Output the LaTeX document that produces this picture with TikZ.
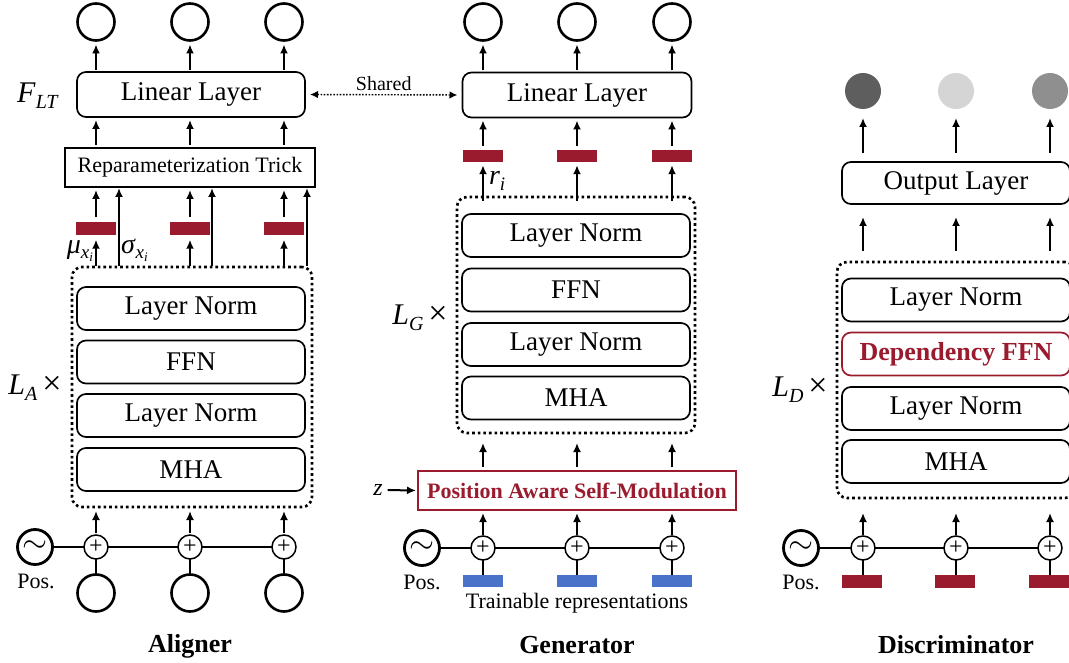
\documentclass[tikz,border=0pt]{standalone}
\usepackage{fontspec}
\setmainfont{Liberation Serif}
\usetikzlibrary{arrows.meta}
\definecolor{dred}{HTML}{9B1B2E}
\definecolor{dblue}{HTML}{4A72C8}
\definecolor{cdark}{HTML}{5E5E5E}
\definecolor{clight}{HTML}{D5D5D5}
\definecolor{cmid}{HTML}{8F8F8F}
\newcommand{\fs}[1]{\fontsize{#1}{#1}\selectfont}
\newcommand{\tld}{\resizebox{25pt}{!}{$\sim$}}
\newcommand{\subsc}[2]{\textit{#1}\raisebox{-0.45ex}{\fs{20}\textit{#2}}}
\begin{document}
\begin{tikzpicture}[x=1pt,y=-1pt,
  every node/.style={inner sep=0pt, outer sep=0pt},
  layerbox/.style={draw, rounded corners=9pt, line width=1.7pt, minimum width=228pt, minimum height=43pt, font=\fs{27}},
  redlayer/.style={layerbox, draw=dred, text=dred, font=\fs{26}\bfseries},
  sqbox/.style={draw, line width=1.3pt, minimum height=39pt, font=\fs{22}},
  loopbox/.style={draw, rounded corners=10pt, line width=2.6pt, dash pattern=on 2.6pt off 3pt},
  io/.style={circle, draw, line width=2.6pt, minimum size=37pt},
  outdot/.style={circle, minimum size=36pt},
  plusc/.style={circle, draw, line width=1.5pt, minimum size=24pt, font=\fs{24}},
  posc/.style={circle, draw, line width=2.8pt, minimum size=35pt},
  bar/.style={minimum width=40pt, minimum height=12.5pt},
  arr/.style={-{Latex[length=9pt,width=8pt]}, line width=2pt},
  ln/.style={line width=1.8pt},
  lbl/.style={font=\fs{22}},
  mathlbl/.style={font=\fs{30}},
  title/.style={font=\fs{26}\bfseries},
]
\useasboundingbox (0,0) rectangle (1069,663);
\clip (0,0) rectangle (1069,663);

% ================= Aligner =================
\foreach \i/\x/\s in {1/96/119,2/190/212,3/284/307}{
  \node[io] (aout\i) at (\x,22) {};
  \node[bar, fill=dred] (abar\i) at (\x,228.5) {};
  \node[plusc] (ap\i) at (\x,547) {+};
  \node[io] (ain\i) at (\x,593) {};
  \coordinate (asig\i) at (\s,266);
}
\node[layerbox, minimum height=45pt] (alin) at (191,94.5) {Linear Layer};
\node[sqbox, minimum width=250pt] (rep) at (190,167.5) {Reparameterization Trick};
\node[loopbox, minimum width=240pt, minimum height=240pt] (aloop) at (192,387) {};
\node[layerbox] (aln1) at (191,308.5) {Layer Norm};
\node[layerbox] (affn) at (191,362) {FFN};
\node[layerbox] (aln2) at (191,415.5) {Layer Norm};
\node[layerbox] (amha) at (191,469.5) {MHA};
\node[posc] (apos) at (35,547) {\tld};
\node[lbl] (aposl) at (36,581) {Pos.};
\node[mathlbl] (flt) at (38,96) {\subsc{F}{LT}};
\node[mathlbl] (la) at (35,388) {\subsc{L}{A}\,{\fs{34}×}};
\node[font=\fs{28}, anchor=east] (mul) at (93,251) {\textit{μ}\raisebox{-0.4ex}{\fs{19}\textit{x}\raisebox{-0.35ex}{\fs{13}\textit{i}}}};
\node[font=\fs{28}, anchor=west] (sigl) at (121,250) {\textit{σ}\raisebox{-0.4ex}{\fs{19}\textit{x}\raisebox{-0.35ex}{\fs{13}\textit{i}}}};
\node[title] (atitle) at (190,646) {Aligner};

\foreach \i in {1,2,3}{
  \draw[arr, shorten <=2pt, shorten >=4pt] (alin.north -| aout\i) -- (aout\i.south);
  \draw[arr, shorten <=3pt, shorten >=3pt] (rep.north -| aout\i) -- (alin.south -| aout\i);
  \draw[arr, shorten <=5pt, shorten >=3pt] (abar\i.north) -- (rep.south -| abar\i);
  \draw[arr, shorten <=1pt, shorten >=5pt] (aloop.north -| abar\i) -- (abar\i.south);
  \draw[arr, shorten >=1pt] (asig\i) -- (rep.south -| asig\i);
  \draw[arr, shorten <=2pt, shorten >=4pt] (ap\i.north) -- (aloop.south -| ap\i);
  \draw[ln] (ap\i.south) -- (ain\i.north);
}
\draw[ln] (apos.east) -- (ap1.west) (ap1.east) -- (ap2.west) (ap2.east) -- (ap3.west);

% ================= Generator =================
\foreach \i/\x in {1/483,2/577,3/672}{
  \node[io] (gout\i) at (\x,22) {};
  \node[bar, fill=dred] (gbar\i) at (\x,156) {};
  \node[plusc] (gp\i) at (\x,548) {+};
  \node[bar, fill=dblue] (gin\i) at (\x,581) {};
}
\node[layerbox, minimum width=229pt, minimum height=45pt] (glin) at (577,95) {Linear Layer};
\node[loopbox, minimum width=238pt, minimum height=236pt] (gloop) at (576,315) {};
\node[layerbox] (gln1) at (576,235.5) {Layer Norm};
\node[layerbox] (gffn) at (576,290) {FFN};
\node[layerbox] (gln2) at (576,344.5) {Layer Norm};
\node[layerbox] (gmha) at (576,398) {MHA};
\node[draw=dred, text=dred, line width=1.4pt, minimum width=318pt, minimum height=39pt, font=\fs{22}\bfseries] (pasm) at (577,490.5) {Position Aware Self-Modulation};
\node[font=\fs{24}] (z) at (378,490) {\textit{z}};
\node[font=\fs{28}, anchor=west] (ri) at (489,181) {\textit{r}\raisebox{-0.45ex}{\fs{19}\textit{i}}};
\node[mathlbl] (lg) at (420,318) {\subsc{L}{G}\,{\fs{34}×}};
\node[posc] (gpos) at (422,548) {\tld};
\node[lbl] (gposl) at (422,582) {Pos.};
\node[lbl] (train) at (577,603) {Trainable representations};
\node[title] (gtitle) at (577,645) {Generator};

\foreach \i in {1,2,3}{
  \draw[arr, shorten <=2pt, shorten >=4pt] (glin.north -| gout\i) -- (gout\i.south);
  \draw[arr, shorten <=4pt, shorten >=3pt] (gbar\i.north) -- (glin.south -| gbar\i);
  \draw[arr, shorten <=-4pt, shorten >=3pt] (gloop.north -| gbar\i) -- (gbar\i.south);
  \draw[arr, shorten <=4pt, shorten >=10pt] (pasm.north -| gp\i) -- (gloop.south -| gp\i);
  \draw[arr, shorten <=1pt, shorten >=3pt] (gp\i.north) -- (pasm.south -| gp\i);
  \draw[ln] (gp\i.south) -- (gin\i.north);
}
\draw[ln] (gpos.east) -- (gp1.west) (gp1.east) -- (gp2.west) (gp2.east) -- (gp3.west);
\draw[arr, shorten <=5pt, shorten >=2pt] (z.east) -- (pasm.west);

% Shared
\draw[{Latex[length=8pt,width=7.5pt]}-{Latex[length=8pt,width=7.5pt]}, line width=1.4pt, dash pattern=on 1.6pt off 1.6pt, shorten <=5pt, shorten >=5pt] (alin.east) -- node[above=4pt, font=\fs{20}] (shared) {Shared} (glin.west);

% ================= Discriminator =================
\foreach \i/\x/\c in {1/863/cdark,2/956/clight,3/1050/cmid}{
  \node[outdot, fill=\c] (dout\i) at (\x,91) {};
  \node[plusc] (dp\i) at (\x,548) {+};
  \node[bar, fill=dred] (din\i) at (\x-1,581.5) {};
}
\node[layerbox, minimum height=42pt] (dol) at (956,183) {Output Layer};
\node[loopbox, minimum width=238pt, minimum height=236pt] (dloop) at (956,380) {};
\node[layerbox] (dln1) at (956,300) {Layer Norm};
\node[redlayer] (dffn) at (956,354) {Dependency FFN};
\node[layerbox] (dln2) at (956,408.5) {Layer Norm};
\node[layerbox] (dmha) at (956,461.5) {MHA};
\node[posc] (dpos) at (801,548) {\tld};
\node[lbl] (dposl) at (801,582) {Pos.};
\node[mathlbl] (ld) at (800,390) {\subsc{L}{D}\,{\fs{34}×}};
\node[title] (dtitle) at (956,645) {Discriminator};

\foreach \i in {1,2,3}{
  \draw[arr, shorten <=9pt, shorten >=9pt] (dol.north -| dout\i) -- (dout\i.south);
  \draw[arr, shorten <=11pt, shorten >=13pt] (dloop.north -| dout\i) -- (dol.south -| dout\i);
  \draw[arr, shorten <=1pt, shorten >=15pt] (dp\i.north) -- (dloop.south -| dp\i);
  \draw[ln] (dp\i.south) -- (din\i.north -| dp\i);
}
\draw[ln] (dpos.east) -- (dp1.west) (dp1.east) -- (dp2.west) (dp2.east) -- (dp3.west);
\end{tikzpicture}
\end{document}
